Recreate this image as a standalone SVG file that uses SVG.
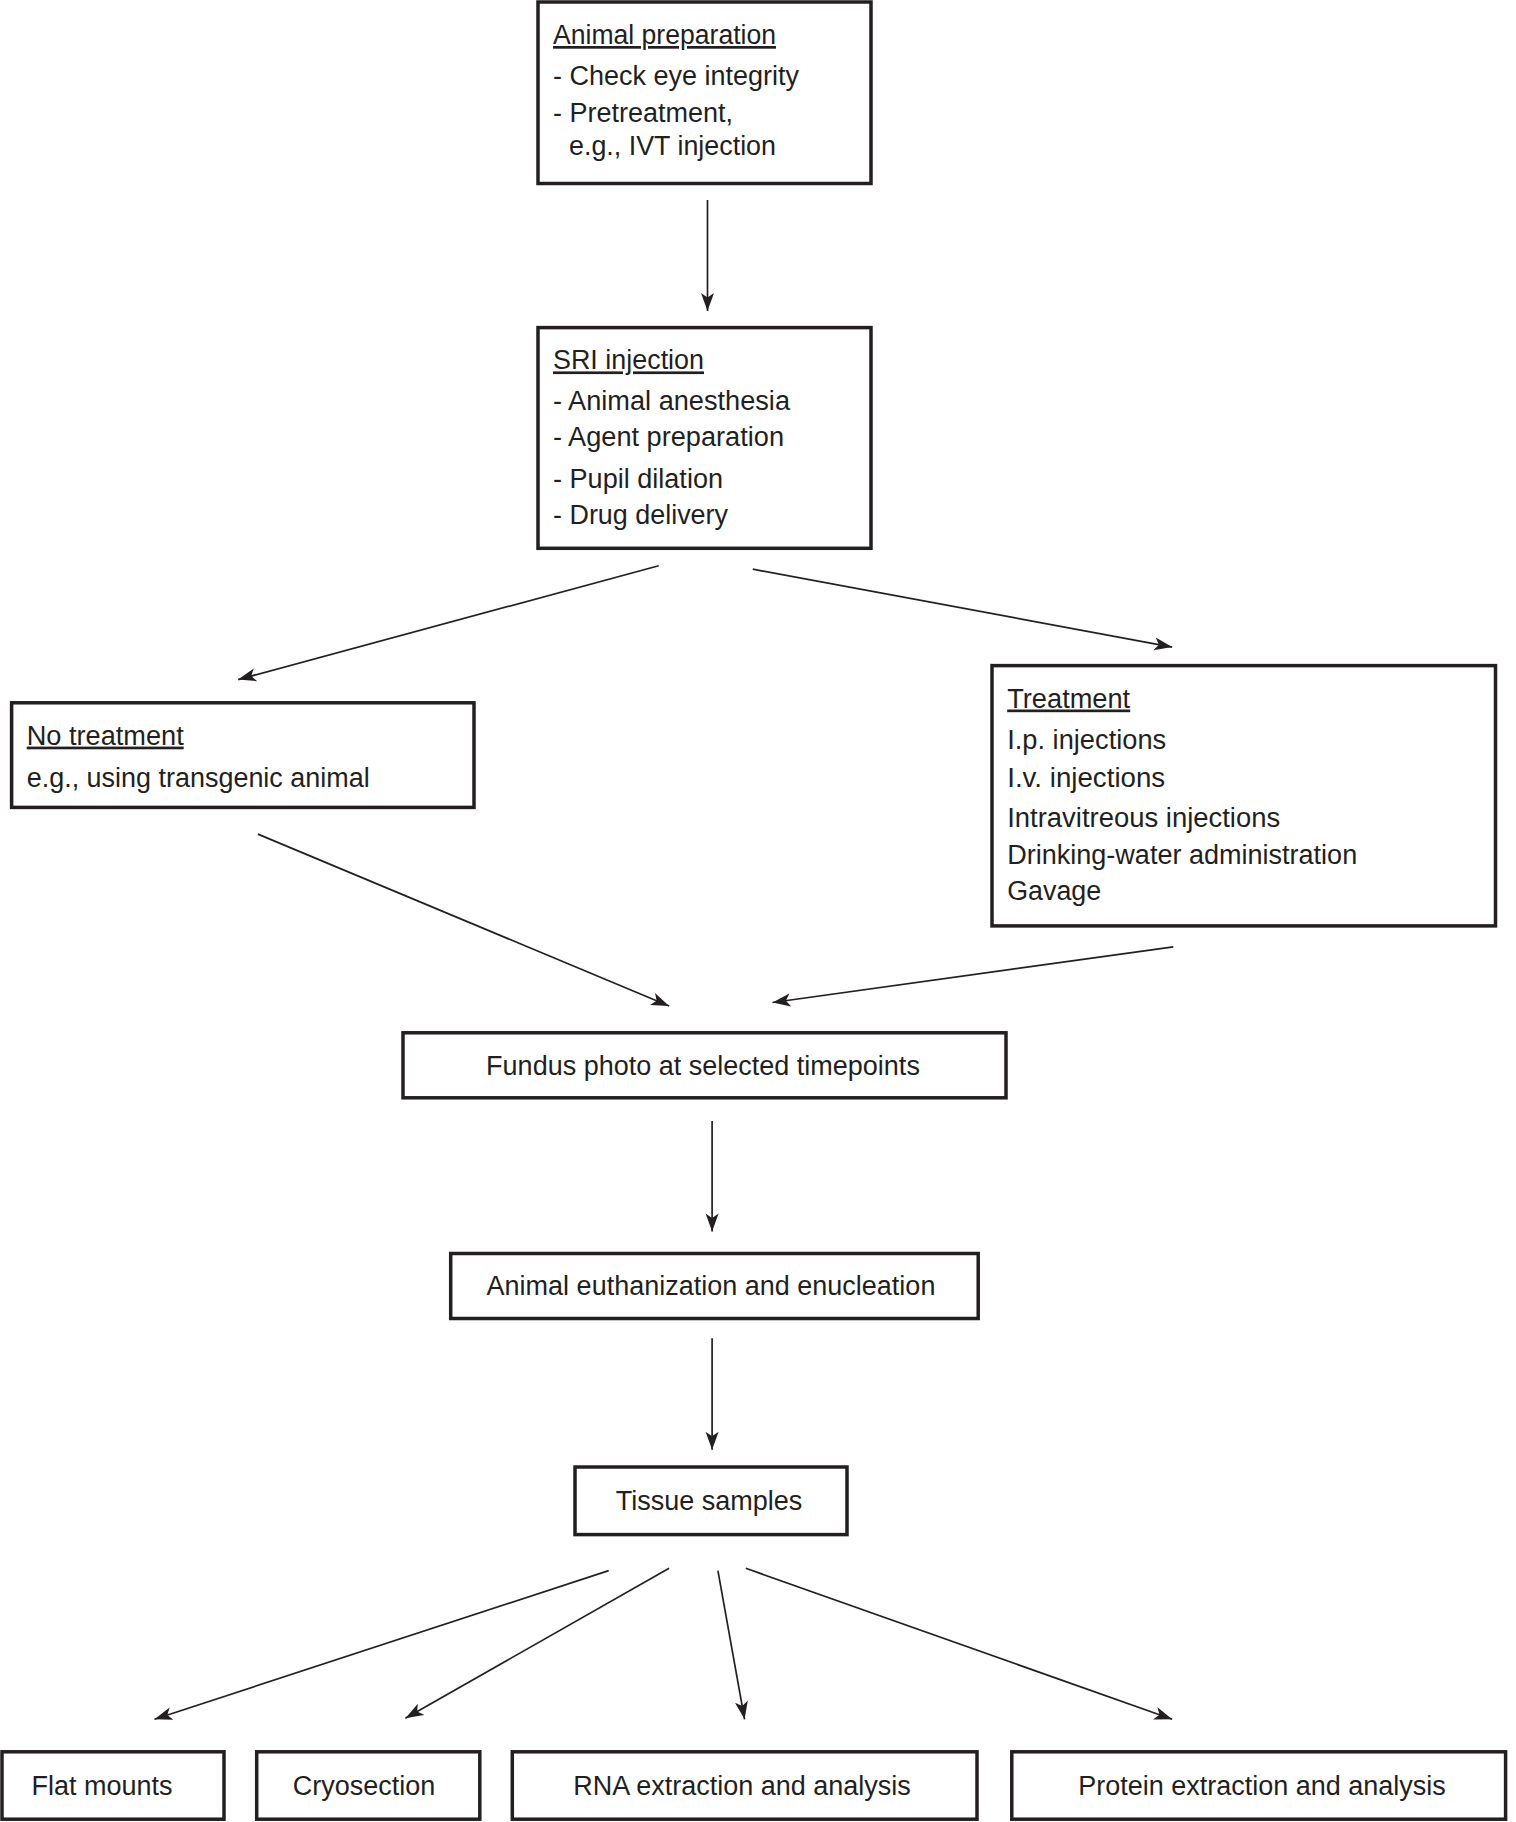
<svg xmlns="http://www.w3.org/2000/svg" width="1516" height="1822" viewBox="0 0 1516 1822">
<style>
.box{fill:#fff;stroke:#231f20;stroke-width:3.5}
.t{font-family:"Liberation Sans",Arial,sans-serif;font-size:27px;fill:#231f20}
.n{font-family:"Liberation Sans",Arial,sans-serif;font-size:27px;fill:#231f20}
.c{text-anchor:middle}
.u{text-decoration:underline}
.ln{stroke:#231f20;stroke-width:1.7;fill:none;marker-end:url(#ah)}
</style>
<defs>
<marker id="ah" markerUnits="userSpaceOnUse" markerWidth="20" markerHeight="14" refX="18" refY="7" orient="auto">
<path d="M0,0.5 L18,7 L0,13.5 L4.5,7 z" fill="#231f20"/>
</marker>
</defs>
<rect width="1516" height="1822" fill="#fff"/>
<g id="connectors">
<line class="ln" x1="707.5" y1="200" x2="707.5" y2="311"/>
<line class="ln" x1="658.7" y1="565.7" x2="238.1" y2="679.6"/>
<line class="ln" x1="752.8" y1="569.2" x2="1172.2" y2="647.1"/>
<line class="ln" x1="257.9" y1="834.1" x2="669.1" y2="1006"/>
<line class="ln" x1="1173.3" y1="946.8" x2="772.5" y2="1002.5"/>
<line class="ln" x1="712.1" y1="1121" x2="712.1" y2="1231.4"/>
<line class="ln" x1="712.1" y1="1338.3" x2="712.1" y2="1449.8"/>
<line class="ln" x1="608.7" y1="1570.6" x2="154.5" y2="1719.3"/>
<line class="ln" x1="669.1" y1="1568.3" x2="405.4" y2="1718.2"/>
<line class="ln" x1="717.9" y1="1570.6" x2="744.6" y2="1719.3"/>
<line class="ln" x1="745.8" y1="1568.3" x2="1172.2" y2="1719.3"/>
</g>
<g id="animal-preparation">
<rect class="box" x="538" y="2" width="333" height="181.5"/>
<text class="t u" x="553" y="44" textLength="223" lengthAdjust="spacingAndGlyphs">Animal preparation</text>
<text class="t" x="553" y="85" textLength="246" lengthAdjust="spacingAndGlyphs">- Check eye integrity</text>
<text class="t" x="553" y="122" textLength="180" lengthAdjust="spacingAndGlyphs">- Pretreatment,</text>
<text class="t" x="569" y="154.5" textLength="207" lengthAdjust="spacingAndGlyphs">e.g., IVT injection</text>
</g>
<g id="sri-injection">
<rect class="box" x="538" y="327.6" width="333" height="220.7"/>
<text class="t u" x="553" y="369.4" textLength="151" lengthAdjust="spacingAndGlyphs">SRI injection</text>
<text class="t" x="553" y="410" textLength="237" lengthAdjust="spacingAndGlyphs">- Animal anesthesia</text>
<text class="t" x="553" y="446" textLength="231" lengthAdjust="spacingAndGlyphs">- Agent preparation</text>
<text class="t" x="553" y="488" textLength="170" lengthAdjust="spacingAndGlyphs">- Pupil dilation</text>
<text class="t" x="553" y="524" textLength="175" lengthAdjust="spacingAndGlyphs">- Drug delivery</text>
</g>
<g id="no-treatment">
<rect class="box" x="11.6" y="702.8" width="462.4" height="104.6"/>
<text class="n u" x="26.7" y="744.6" textLength="157" lengthAdjust="spacingAndGlyphs">No treatment</text>
<text class="n" x="26.7" y="786.5" textLength="343" lengthAdjust="spacingAndGlyphs">e.g., using transgenic animal</text>
</g>
<g id="treatment">
<rect class="box" x="992" y="665.6" width="503.5" height="260.3"/>
<text class="n u" x="1007.2" y="707.5" textLength="123" lengthAdjust="spacingAndGlyphs">Treatment</text>
<text class="n" x="1007.2" y="749.3" textLength="159" lengthAdjust="spacingAndGlyphs">I.p. injections</text>
<text class="n" x="1007.2" y="786.5" textLength="158" lengthAdjust="spacingAndGlyphs">I.v. injections</text>
<text class="n" x="1007.2" y="827.1" textLength="273" lengthAdjust="spacingAndGlyphs">Intravitreous injections</text>
<text class="n" x="1007.2" y="864.3" textLength="350" lengthAdjust="spacingAndGlyphs">Drinking-water administration</text>
<text class="n" x="1007.2" y="900.3" textLength="94" lengthAdjust="spacingAndGlyphs">Gavage</text>
</g>
<g id="fundus-photo">
<rect class="box" x="403" y="1032.8" width="603" height="65"/>
<text class="t c" x="703" y="1075">Fundus photo at selected timepoints</text>
</g>
<g id="euthanization">
<rect class="box" x="450.7" y="1253.5" width="527.5" height="65"/>
<text class="t c" x="711" y="1295">Animal euthanization and enucleation</text>
</g>
<g id="tissue-samples">
<rect class="box" x="575" y="1467" width="272" height="67.6"/>
<text class="t c" x="709" y="1510">Tissue samples</text>
</g>
<g id="flat-mounts">
<rect class="box" x="2" y="1751.8" width="222" height="67.4"/>
<text class="t c" x="102" y="1795">Flat mounts</text>
</g>
<g id="cryosection">
<rect class="box" x="256.7" y="1751.8" width="223.1" height="67.4"/>
<text class="t c" x="364" y="1795">Cryosection</text>
</g>
<g id="rna-extraction">
<rect class="box" x="512.3" y="1751.8" width="464.7" height="67.4"/>
<text class="t c" x="742" y="1795">RNA extraction and analysis</text>
</g>
<g id="protein-extraction">
<rect class="box" x="1011.8" y="1751.8" width="493.8" height="67.4"/>
<text class="t c" x="1262" y="1795">Protein extraction and analysis</text>
</g>
</svg>
